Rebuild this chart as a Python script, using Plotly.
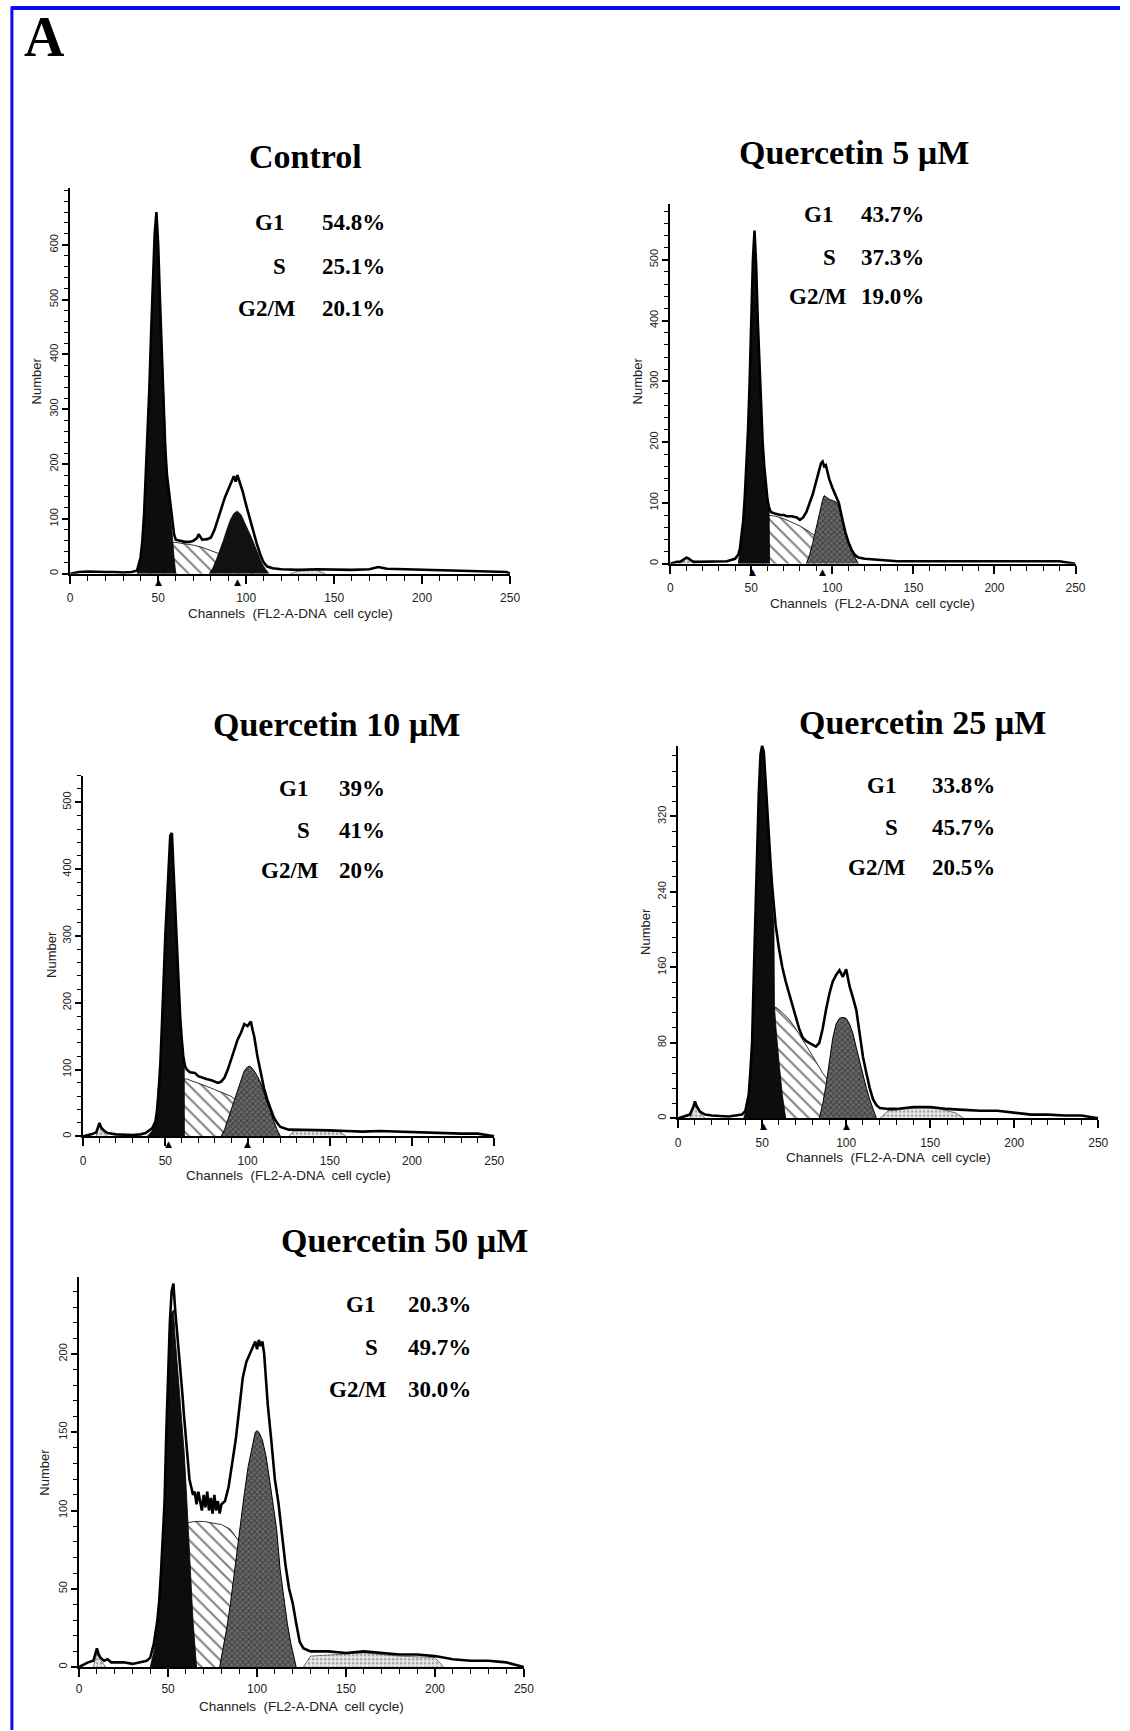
import plotly.graph_objects as go

W, H = 1130, 1731

# ---------------- data (channel, count) ----------------
CTRL_TOTAL = [(0,0),(5,3),(10,4),(15,3),(20,3),(25,3),(30,2),(35,3),(38,6),(40,30),(41,60),(42,110),(43,180),(44,260),(45,340),(46,440),(47,540),(48,620),(49,660),(50,600),(51,500),(52,410),(53,320),(54,230),(55,180),(56,150),(57,128),(58,100),(59,72),(60,62),(62,60),(65,58),(68,58),(70,60),(72,65),(73,72),(75,62),(78,63),(80,66),(82,80),(84,100),(86,120),(88,140),(90,155),(92,172),(93,178),(94,168),(95,180),(96,170),(98,150),(100,125),(102,100),(104,80),(106,55),(108,35),(110,20),(112,13),(115,10),(120,8),(130,7),(140,8),(150,7),(160,7),(170,8),(175,12),(180,9),(190,8),(200,7),(210,6),(220,5),(230,4),(240,4),(248,3),(250,0)]
CTRL_G1 = [(38,0),(40,28),(41,58),(42,108),(43,178),(44,258),(45,338),(46,438),(47,538),(48,618),(49,658),(50,598),(51,498),(52,408),(53,318),(54,228),(55,176),(56,140),(57,108),(58,70),(59,30),(60,0)]
CTRL_S = [(45,50),(55,57),(60,57),(65,55),(70,52),(75,48),(80,42),(85,36),(90,30),(95,22),(100,12),(104,0)]
CTRL_G2 = [(79,0),(81,10),(83,25),(85,42),(87,60),(89,80),(91,98),(93,110),(95,114),(97,108),(99,95),(101,80),(103,66),(105,50),(107,33),(109,18),(111,8),(113,0)]
CTRL_DEBRIS_LOW = []
CTRL_DEBRIS_HIGH = [(125,0),(130,5),(140,6),(145,0)]
CTRL_MARKS = [50, 95]

Q5_TOTAL = [(0,0),(4,3),(6,3),(8,6),(10,10),(11,9),(13,5),(15,3),(20,3),(30,3),(35,4),(40,8),(42,15),(43,25),(44,45),(45,70),(46,110),(47,160),(48,220),(49,300),(50,400),(51,500),(52,548),(53,490),(54,400),(55,330),(56,260),(57,200),(58,160),(59,125),(60,105),(61,92),(62,85),(65,82),(68,80),(70,80),(72,78),(75,78),(78,76),(80,72),(82,76),(84,85),(86,100),(88,115),(90,135),(92,155),(93,165),(94,168),(95,160),(96,162),(98,140),(100,125),(102,112),(104,100),(106,75),(108,52),(110,35),(112,22),(114,14),(116,10),(120,8),(125,7),(130,5),(140,4),(150,4),(160,4),(170,3),(180,4),(190,3),(200,3),(210,3),(220,3),(230,3),(240,4),(250,0)]
Q5_G1 = [(42,0),(43,20),(44,42),(45,68),(46,108),(47,158),(48,218),(49,298),(50,398),(51,498),(52,546),(53,488),(54,398),(55,328),(56,258),(57,198),(58,158),(59,123),(60,103),(61,90),(61.3,0)]
Q5_S = [(45,60),(55,75),(60,80),(65,78),(70,74),(75,68),(80,62),(85,54),(90,45),(95,35),(100,22),(105,10),(108,0)]
Q5_G2 = [(84,0),(86,15),(88,35),(90,60),(92,85),(94,105),(95,112),(96,110),(98,106),(100,104),(102,102),(104,95),(106,72),(108,50),(110,33),(112,20),(114,10),(116,0)]
Q5_DEBRIS_LOW = [(7,0),(8,5),(10,9),(11,8),(13,4),(15,0)]
Q5_DEBRIS_HIGH = []
Q5_MARKS = [51, 94]

Q10_TOTAL = [(0,0),(5,3),(8,6),(9,15),(10,20),(11,13),(13,8),(15,5),(20,3),(30,2),(35,3),(38,5),(40,8),(42,12),(44,22),(45,40),(46,70),(47,110),(48,170),(49,250),(50,300),(51,350),(52,400),(53,450),(54,454),(55,400),(56,340),(57,290),(58,220),(59,180),(60,145),(61,118),(62,105),(63,100),(65,96),(68,95),(70,90),(72,88),(75,86),(78,84),(80,82),(82,80),(84,82),(86,88),(88,100),(90,115),(92,130),(94,145),(96,155),(98,168),(100,165),(102,172),(103,160),(104,150),(106,120),(108,95),(110,72),(112,55),(114,40),(116,28),(118,20),(120,14),(125,10),(130,10),(140,10),(150,9),(160,8),(170,7),(180,8),(190,7),(200,6),(210,6),(220,5),(230,4),(240,4),(250,0)]
Q10_G1 = [(39,0),(42,8),(44,20),(45,38),(46,68),(47,108),(48,168),(49,248),(50,298),(51,348),(52,398),(53,448),(54,452),(55,398),(56,338),(57,288),(58,218),(59,178),(60,143),(61,116),(61.5,108),(61.6,0)]
Q10_S = [(45,70),(55,82),(60,85),(63,86),(65,84),(70,80),(75,75),(80,70),(85,65),(90,60),(95,50),(100,40),(105,25),(110,0)]
Q10_G2 = [(84,0),(86,10),(88,25),(90,40),(92,55),(94,70),(96,85),(98,98),(100,104),(101,105),(102,104),(104,98),(106,90),(108,80),(110,65),(112,50),(114,35),(116,22),(118,10),(120,0)]
Q10_DEBRIS_LOW = [(8,0),(9,12),(10,16),(11,10),(13,5),(15,0)]
Q10_DEBRIS_HIGH = [(125,0),(128,8),(135,9),(145,9),(155,8),(160,0)]
Q10_MARKS = [52, 100]

Q25_TOTAL = [(0,0),(5,3),(7,4),(9,12),(10,18),(11,13),(13,7),(16,4),(20,3),(30,2),(35,3),(38,4),(40,8),(42,25),(43,50),(44,80),(45,150),(46,220),(47,295),(48,345),(49,385),(50,395),(51,388),(52,355),(53,325),(54,300),(55,270),(56,245),(57,224),(58,205),(60,180),(62,160),(64,145),(66,132),(68,120),(70,108),(72,95),(74,86),(76,82),(78,80),(80,78),(82,76),(84,80),(86,95),(88,115),(90,132),(92,145),(94,152),(96,157),(98,150),(100,158),(101,150),(102,140),(104,128),(106,115),(108,90),(110,65),(112,48),(114,32),(116,20),(118,14),(120,11),(125,10),(130,10),(140,12),(150,12),(160,10),(170,9),(180,8),(190,8),(200,6),(210,4),(220,4),(230,3),(240,3),(250,0)]
Q25_G1 = [(39,0),(41,12),(43,45),(44,78),(45,148),(46,218),(47,290),(48,340),(49,380),(50,393),(51,385),(52,352),(53,322),(54,298),(55,268),(56,238),(57,200),(57.3,120),(58,100),(60,60),(62,25),(64,0)]
Q25_S = [(50,100),(55,112),(58,118),(62,112),(66,105),(70,95),(74,84),(78,72),(82,60),(86,48),(90,38),(95,25),(100,12),(104,0)]
Q25_G2 = [(84,0),(86,15),(88,35),(90,60),(92,85),(94,100),(96,106),(98,107),(100,106),(102,100),(104,90),(106,75),(108,60),(110,45),(112,32),(114,20),(116,10),(118,0)]
Q25_DEBRIS_LOW = [(7,0),(9,10),(10,15),(11,11),(13,6),(16,0)]
Q25_DEBRIS_HIGH = [(120,0),(125,8),(135,10),(145,11),(155,10),(165,6),(170,0)]
Q25_MARKS = [51, 100]

Q50_TOTAL = [(0,0),(5,3),(8,4),(10,12),(11,8),(12,6),(14,4),(16,5),(18,3),(25,3),(30,2),(35,3),(38,4),(40,6),(42,15),(44,30),(45,42),(46,60),(47,80),(48,105),(49,150),(50,190),(51,220),(52,240),(53,245),(54,228),(55,215),(56,205),(57,192),(58,175),(59,160),(60,147),(61,132),(62,120),(63,115),(64,110),(65,112),(66,104),(67,112),(68,106),(69,100),(70,110),(71,102),(72,112),(73,100),(74,108),(75,98),(76,110),(77,100),(78,106),(79,98),(80,104),(82,106),(84,115),(86,130),(88,145),(90,165),(92,185),(94,195),(96,200),(98,205),(99,208),(100,203),(101,209),(102,205),(103,208),(104,200),(105,185),(106,168),(108,145),(110,120),(112,105),(114,85),(116,65),(118,50),(120,41),(122,28),(124,16),(126,12),(130,10),(140,10),(150,9),(160,10),(170,9),(180,8),(190,8),(200,7),(210,5),(220,4),(230,4),(240,3),(250,0)]
Q50_G1 = [(40,0),(42,10),(44,25),(45,38),(46,56),(47,78),(48,102),(49,145),(50,182),(51,212),(52,226),(53,228),(54,210),(55,195),(56,180),(57,168),(58,155),(59,138),(60,118),(61,95),(62,70),(63,50),(64,30),(65,15),(66,0)]
Q50_S = [(50,80),(55,88),(60,92),(65,93),(70,93),(75,92),(80,91),(85,88),(90,80),(95,65),(100,45),(105,20),(110,0)]
Q50_G2 = [(79,0),(81,12),(83,25),(85,40),(87,58),(89,78),(91,95),(93,112),(95,128),(97,140),(99,150),(100,151),(101,150),(103,145),(105,135),(107,120),(109,105),(111,88),(113,62),(115,45),(117,28),(119,15),(121,5),(122,0)]
Q50_DEBRIS_LOW = [(8,0),(10,9),(11,6),(13,3),(15,0)]
Q50_DEBRIS_HIGH = [(126,0),(130,7),(145,8),(160,9),(180,7),(200,6),(205,0)]
Q50_MARKS = []

TITLES = ["Control", "Quercetin 5 µM", "Quercetin 10 µM", "Quercetin 25 µM", "Quercetin 50 µM"]
PHASES = ["G1", "S", "G2/M"]
CTRL_PCT = ["54.8%", "25.1%", "20.1%"]
Q5_PCT = ["43.7%", "37.3%", "19.0%"]
Q10_PCT = ["39%", "41%", "20%"]
Q25_PCT = ["33.8%", "45.7%", "20.5%"]
Q50_PCT = ["20.3%", "49.7%", "30.0%"]
X_TICKS = [0, 50, 100, 150, 200, 250]
CTRL_YTICKS = [0, 100, 200, 300, 400, 500, 600]
Q5_YTICKS = [0, 100, 200, 300, 400, 500]
Q10_YTICKS = [0, 100, 200, 300, 400, 500]
Q25_YTICKS = [0, 80, 160, 240, 320]
Q50_YTICKS = [0, 50, 100, 150, 200]

# ---------------- layout (pixels) ----------------
PANELS = [
    dict(total=CTRL_TOTAL, g1=CTRL_G1, s=CTRL_S, g2=CTRL_G2, dl=CTRL_DEBRIS_LOW, dh=CTRL_DEBRIS_HIGH, marks=CTRL_MARKS,
         pct=CTRL_PCT, yt=CTRL_YTICKS, x0=68, x1=513, yb=574, ytp=188, ymax=704, minor=20,
         title=(306, 157), lr=(286, 288, 298), vl=321, sy=(223, 267, 309), num=(34, 381), g2dark=True),
    dict(total=Q5_TOTAL, g1=Q5_G1, s=Q5_S, g2=Q5_G2, dl=Q5_DEBRIS_LOW, dh=Q5_DEBRIS_HIGH, marks=Q5_MARKS,
         pct=Q5_PCT, yt=Q5_YTICKS, x0=675, x1=1085, yb=564, ytp=204, ymax=592, minor=20,
         title=(861, 153), lr=(842, 845, 856), vl=866, sy=(215, 258, 297), num=(642, 381), g2dark=False),
    dict(total=Q10_TOTAL, g1=Q10_G1, s=Q10_S, g2=Q10_G2, dl=Q10_DEBRIS_LOW, dh=Q10_DEBRIS_HIGH, marks=Q10_MARKS,
         pct=Q10_PCT, yt=Q10_YTICKS, x0=81, x1=497, yb=1137, ytp=776, ymax=540, minor=20,
         title=(337, 725), lr=(311, 313, 322), vl=338, sy=(789, 831, 871), num=(49, 955), g2dark=False),
    dict(total=Q25_TOTAL, g1=Q25_G1, s=Q25_S, g2=Q25_G2, dl=Q25_DEBRIS_LOW, dh=Q25_DEBRIS_HIGH, marks=Q25_MARKS,
         pct=Q25_PCT, yt=Q25_YTICKS, x0=683, x1=1108, yb=1119, ytp=746, ymax=395, minor=16,
         title=(930, 723), lr=(905, 907, 916), vl=938, sy=(786, 828, 868), num=(650, 932), g2dark=False),
    dict(total=Q50_TOTAL, g1=Q50_G1, s=Q50_S, g2=Q50_G2, dl=Q50_DEBRIS_LOW, dh=Q50_DEBRIS_HIGH, marks=Q50_MARKS,
         pct=Q50_PCT, yt=Q50_YTICKS, x0=77, x1=527, yb=1668, ytp=1278, ymax=249, minor=10,
         title=(406, 1241), lr=(378, 381, 390), vl=408, sy=(1305, 1348, 1390), num=(42, 1473), g2dark=False),
]

fig = go.Figure()
annotations = []
layout_axes = {}

def xy(pairs):
    return [p[0] for p in pairs], [p[1] for p in pairs]

def px(x):
    return x / W

def py(y):
    return 1 - y / H

for i, p in enumerate(PANELS):
    n = "" if i == 0 else str(i + 1)
    xa, ya = "x" + n, "y" + n

    def area(pairs, fillcolor, pattern=None, lw=0.8):
        if not pairs:
            return
        x, y = xy(pairs)
        fig.add_trace(go.Scatter(x=x, y=y, mode="lines", fill="tozeroy", fillcolor=fillcolor,
                                 fillpattern=pattern, line=dict(color="black", width=lw),
                                 xaxis=xa, yaxis=ya, hoverinfo="skip", showlegend=False))

    area(p["total"], "white", lw=0)
    area(p["dl"], "#d0d0d0", dict(shape=".", fgcolor="#555", bgcolor="#e4e4e4", size=4, solidity=0.3), lw=0.5)
    area(p["dh"], "#d0d0d0", dict(shape=".", fgcolor="#555", bgcolor="#e8e8e8", size=4, solidity=0.3), lw=0.5)
    area(p["s"], "white", dict(shape="\\", fgcolor="black", bgcolor="white", size=9, solidity=0.22), lw=0.8)
    if p["g2dark"]:
        area(p["g2"], "#111111", lw=0.8)
    else:
        area(p["g2"], "#555555", dict(shape="x", fgcolor="#111", bgcolor="#6a6a6a", size=4, solidity=0.45), lw=1.0)
    area(p["g1"], "#0d0d0d", lw=0.8)
    tx, ty = xy(p["total"])
    fig.add_trace(go.Scatter(x=tx, y=ty, mode="lines", line=dict(color="black", width=2.6),
                             xaxis=xa, yaxis=ya, hoverinfo="skip", showlegend=False))

    # peak position markers just under the axis
    for m in p["marks"]:
        annotations.append(dict(text="▲", x=m, y=0, xref=xa, yref=ya + " domain", xanchor="center", yanchor="top",
                                yshift=-1, showarrow=False, font=dict(family="DejaVu Sans", size=9, color="black")))

    common = dict(showline=True, linecolor="black", linewidth=2, showgrid=False, zeroline=False,
                  ticks="outside", tickcolor="black", tickwidth=1.5, fixedrange=True)
    layout_axes["xaxis" + n] = dict(common, domain=[px(p["x0"]), px(p["x1"])], range=[0, 250], anchor=ya,
                                    ticklen=8, ticklabelstandoff=4 if p["marks"] else 2,
                                    tickvals=X_TICKS, ticktext=[str(v) for v in X_TICKS],
                                    minor=dict(dtick=10, tick0=0, ticks="outside", ticklen=5, tickcolor="black", tickwidth=1.2),
                                    tickfont=dict(family="Liberation Sans", size=12, color="#222"))
    layout_axes["yaxis" + n] = dict(common, domain=[py(p["yb"]), py(p["ytp"])], range=[0, p["ymax"]], anchor=xa,
                                    ticklen=6, tickvals=p["yt"], ticktext=[str(v) for v in p["yt"]], tickangle=-90,
                                    minor=dict(dtick=p["minor"], tick0=0, ticks="outside", ticklen=4, tickcolor="black", tickwidth=1.2),
                                    tickfont=dict(family="Liberation Sans", size=11, color="#222"))

    tx0, ty0 = p["title"]
    annotations.append(dict(text="<b>" + TITLES[i] + "</b>", x=px(tx0), y=py(ty0), xref="paper", yref="paper",
                            xanchor="center", yanchor="middle", showarrow=False,
                            font=dict(family="Liberation Serif", size=34, color="black")))
    for k in range(3):
        annotations.append(dict(text="<b>" + PHASES[k] + "</b>", x=px(p["lr"][k]), y=py(p["sy"][k]), xref="paper", yref="paper",
                                xanchor="right", yanchor="middle", showarrow=False,
                                font=dict(family="Liberation Serif", size=23, color="black")))
        annotations.append(dict(text="<b>" + p["pct"][k] + "</b>", x=px(p["vl"]), y=py(p["sy"][k]), xref="paper", yref="paper",
                                xanchor="left", yanchor="middle", showarrow=False,
                                font=dict(family="Liberation Serif", size=23, color="black")))
    annotations.append(dict(text="Number", x=px(p["num"][0]), y=py(p["num"][1]), xref="paper", yref="paper",
                            textangle=-90, xanchor="center", yanchor="middle", showarrow=False,
                            font=dict(family="Liberation Sans", size=13, color="#222")))
    # axis title placed under the tick labels
    annotations.append(dict(text="Channels  (FL2-A-DNA  cell cycle)", x=(p["x0"] + p["x1"]) / 2 / W, y=0,
                            xref="paper", yref=ya + " domain", yshift=-30, xanchor="center", yanchor="top", showarrow=False,
                            font=dict(family="Liberation Sans", size=13.5, color="#222")))

annotations.append(dict(text="<b>A</b>", x=px(42), y=py(37), xref="paper", yref="paper", xanchor="center", yanchor="middle",
                        showarrow=False, font=dict(family="Liberation Serif", size=56, color="black")))

shapes = [
    dict(type="line", xref="paper", yref="paper", x0=px(8), x1=1, y0=py(8), y1=py(8), line=dict(color="#0a0af0", width=4)),
    dict(type="line", xref="paper", yref="paper", x0=px(9), x1=px(9), y0=py(7), y1=0, line=dict(color="#0a0af0", width=3)),
]

fig.update_layout(width=W, height=H, margin=dict(l=0, r=0, t=0, b=0), paper_bgcolor="white", plot_bgcolor="white",
                  showlegend=False, hovermode=False, annotations=annotations, shapes=shapes, **layout_axes)

fig.write_html("out.html")
